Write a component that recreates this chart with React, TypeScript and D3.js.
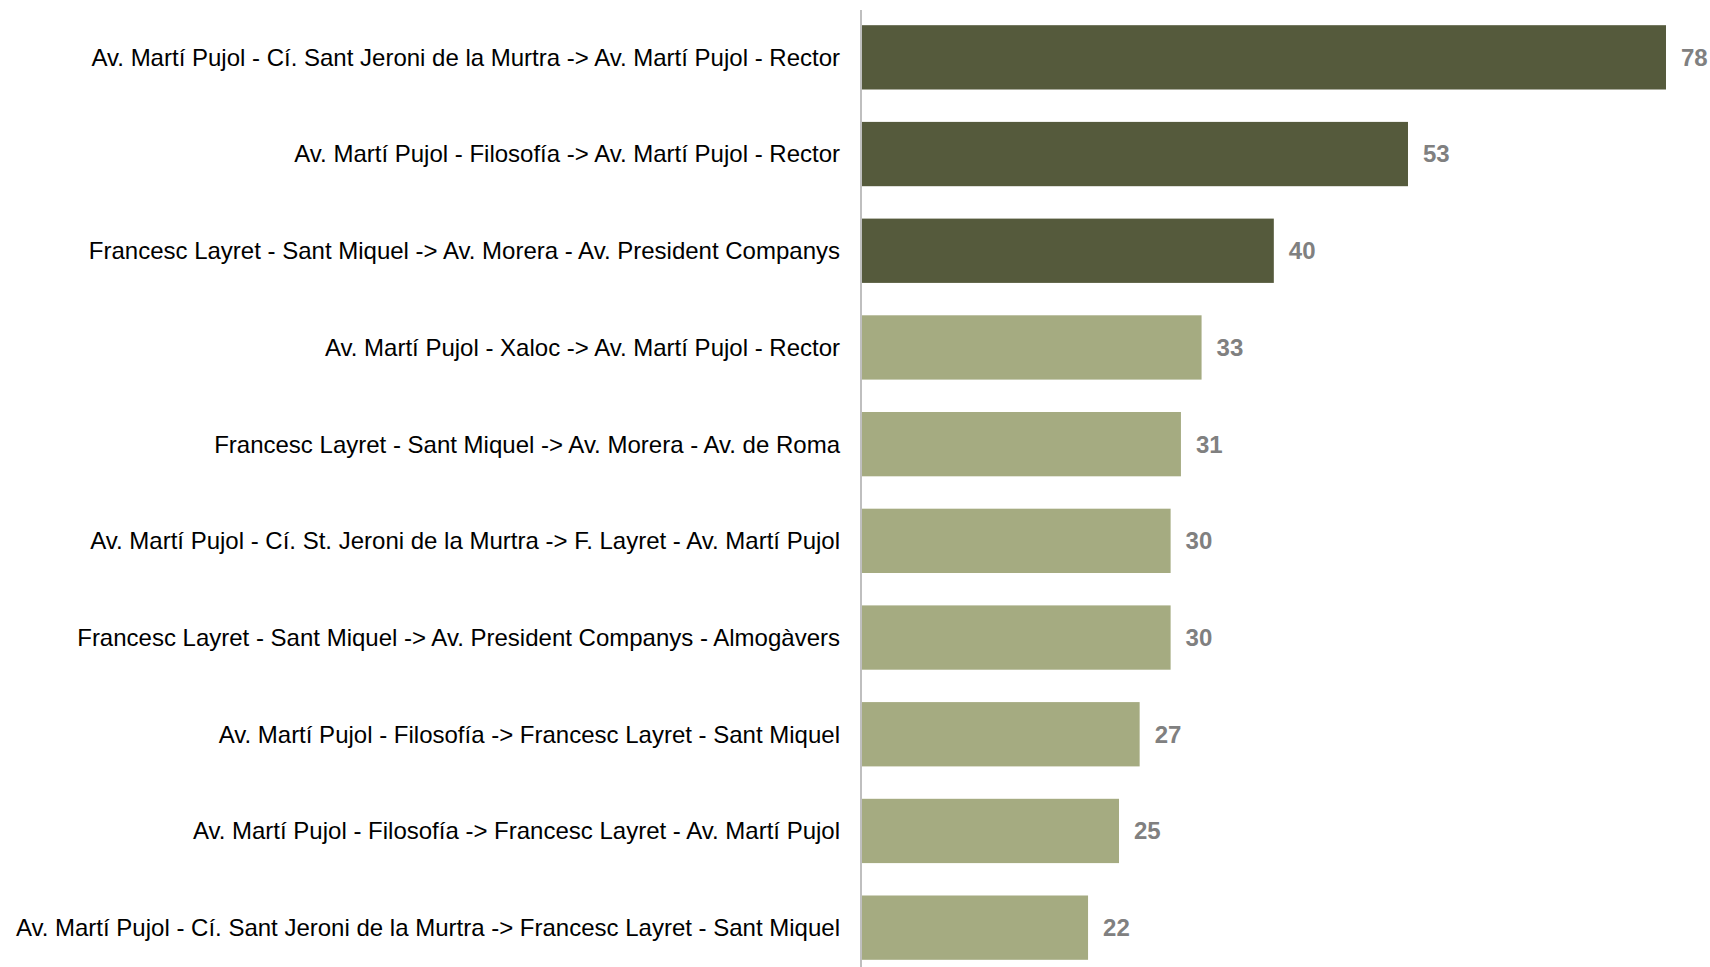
import React, { useEffect, useRef } from 'react';
import * as d3 from 'd3';

// routes, sorted by count
const routes = [
  'Av. Martí Pujol - Cí. Sant Jeroni de la Murtra -> Av. Martí Pujol - Rector',
  'Av. Martí Pujol - Filosofía -> Av. Martí Pujol - Rector',
  'Francesc Layret - Sant Miquel -> Av. Morera - Av. President Companys',
  'Av. Martí Pujol - Xaloc -> Av. Martí Pujol - Rector',
  'Francesc Layret - Sant Miquel -> Av. Morera - Av. de Roma',
  'Av. Martí Pujol - Cí. St. Jeroni de la Murtra -> F. Layret - Av. Martí Pujol',
  'Francesc Layret - Sant Miquel -> Av. President Companys - Almogàvers',
  'Av. Martí Pujol - Filosofía -> Francesc Layret - Sant Miquel',
  'Av. Martí Pujol - Filosofía -> Francesc Layret - Av. Martí Pujol',
  'Av. Martí Pujol - Cí. Sant Jeroni de la Murtra -> Francesc Layret - Sant Miquel',
];
const counts = [78, 53, 40, 33, 31, 30, 30, 27, 25, 22];
// top three are highlighted
const highlighted = [true, true, true, false, false, false, false, false, false, false];

export default function App() {
  const ref = useRef<SVGSVGElement>(null);

  useEffect(() => {
    const width = 1710,
      height = 967;
    const svg = d3.select(ref.current);
    svg.selectAll('*').remove();

    const x = d3.scaleLinear().domain([0, 78]).range([861, 1666]);
    const y = d3
      .scaleBand<number>()
      .domain(d3.range(routes.length))
      .range([9, 976])
      .paddingInner(0.335)
      .paddingOuter(0.1675);

    const g = svg.append('g');

    g.selectAll('rect.bar')
      .data(counts)
      .enter()
      .append('rect')
      .attr('class', 'bar')
      .attr('x', x(0))
      .attr('y', (d, i) => y(i)!)
      .attr('width', (d) => x(d) - x(0))
      .attr('height', y.bandwidth())
      .attr('fill', (d, i) => (highlighted[i] ? '#555a3c' : '#a5ab81'));

    // category axis line
    g.append('line')
      .attr('x1', x(0))
      .attr('x2', x(0))
      .attr('y1', 10)
      .attr('y2', height)
      .attr('stroke', '#bfbfbf')
      .attr('stroke-width', 2);

    g.selectAll('text.cat')
      .data(routes)
      .enter()
      .append('text')
      .attr('class', 'cat')
      .attr('x', 840)
      .attr('y', (d, i) => y(i)! + y.bandwidth() / 2)
      .attr('dy', '0.35em')
      .attr('text-anchor', 'end')
      .style('font-family', 'Liberation Sans, Arial, sans-serif')
      .style('font-size', '24px')
      .attr('fill', '#000')
      .text((d) => d);

    g.selectAll('text.val')
      .data(counts)
      .enter()
      .append('text')
      .attr('class', 'val')
      .attr('x', (d) => x(d) + 15)
      .attr('y', (d, i) => y(i)! + y.bandwidth() / 2)
      .attr('dy', '0.35em')
      .style('font-family', 'Liberation Sans, Arial, sans-serif')
      .style('font-size', '24px')
      .style('font-weight', 'bold')
      .attr('fill', '#808080')
      .text((d) => d);
  }, []);

  return (
    <svg
      ref={ref}
      width={1710}
      height={967}
      style={{ position: 'absolute', left: 0, top: 0, background: '#fff' }}
    />
  );
}
